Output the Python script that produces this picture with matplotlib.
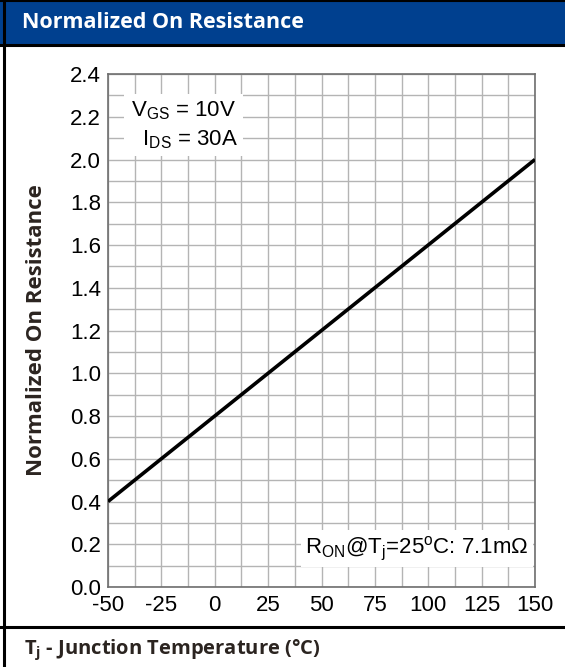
import matplotlib.pyplot as plt
from matplotlib.patches import Rectangle
from matplotlib.lines import Line2D
import numpy as np

# data
temps = [-50, 150]
r_norm = [0.4, 2.0]
x_ticks = [-50, -25, 0, 25, 50, 75, 100, 125, 150]
y_ticks = [0.0, 0.2, 0.4, 0.6, 0.8, 1.0, 1.2, 1.4, 1.6, 1.8, 2.0, 2.2, 2.4]

title = "Normalized On Resistance"
ylabel = "Normalized On Resistance"

fig = plt.figure(figsize=(5.65, 6.67), dpi=100)

# header band + frame lines
fig.patches.append(Rectangle((0, 1 - 45 / 667), 1, 45 / 667, transform=fig.transFigure,
                             facecolor='#00408f', edgecolor='none', zorder=0))
fig.lines.append(Line2D([0, 1], [1 - 45 / 667] * 2, transform=fig.transFigure, color='black', lw=2.2))
fig.lines.append(Line2D([0, 1], [1 - 1 / 667] * 2, transform=fig.transFigure, color='black', lw=1.5))
fig.lines.append(Line2D([4 / 565] * 2, [0, 1], transform=fig.transFigure, color='black', lw=2.2))
fig.lines.append(Line2D([0, 1], [1 - 627 / 667] * 2, transform=fig.transFigure, color='black', lw=2.2))

fig.text(22 / 565, 1 - 22 / 667, title, color='white', fontsize=15.5, fontweight='bold',
         family='Open Sans', va='center', ha='left')
fig.text(24 / 565, 1 - 650 / 667, r"T$_\mathregular{j}$ - Junction Temperature (°C)", color='#2b2420',
         fontsize=14.5, fontweight='bold', family='Open Sans', va='center', ha='left')

ax = fig.add_axes([108 / 565, 1 - 587 / 667, 427 / 565, 513 / 667])
ax.plot(temps, r_norm, color='black', lw=2.6, zorder=3, solid_capstyle='butt')
ax.set_xlim(-50, 150)
ax.set_ylim(0, 2.4)
ax.set_xticks(x_ticks)
ax.set_yticks(y_ticks)
ax.set_xticklabels([str(t) for t in x_ticks], fontsize=16, family='Liberation Sans')
ax.set_yticklabels([f"{v:.1f}" for v in y_ticks], fontsize=16, family='Liberation Sans')
ax.set_xticks(np.arange(-50, 151, 12.5), minor=True)
ax.set_yticks(np.arange(0, 2.41, 0.1), minor=True)
ax.grid(which='both', color='#b4b4b4', lw=1.0)
ax.tick_params(which='both', length=0)
ax.tick_params(axis='x', pad=6)
ax.tick_params(axis='y', pad=5)
for s in ax.spines.values():
    s.set_color('#6e6e6e')
    s.set_linewidth(1.2)
ax.set_axisbelow(True)

fig.text(37 / 565, 1 - 330 / 667, ylabel, rotation=90, fontsize=16, fontweight='bold',
         family='Open Sans', color='#2b2420', va='center', ha='center')

ax.text(-14.5, 2.16, "V$_\\mathregular{GS}$ = 10V\n  I$_\\mathregular{DS}$ = 30A", fontsize=16,
        family='Liberation Sans', va='center', ha='center', linespacing=1.35,
        bbox=dict(boxstyle='square,pad=0.25', facecolor='white', edgecolor='none'), zorder=4)
ax.text(147, 0.18, "R$_\\mathregular{ON}$@T$_\\mathregular{j}$=25$^\\mathregular{o}$C: 7.1m\u03a9",
        fontsize=16, family='Liberation Sans', va='center', ha='right',
        bbox=dict(boxstyle='square,pad=0.2', facecolor='white', edgecolor='none'), zorder=4)

fig.savefig("out.png", dpi=100)
